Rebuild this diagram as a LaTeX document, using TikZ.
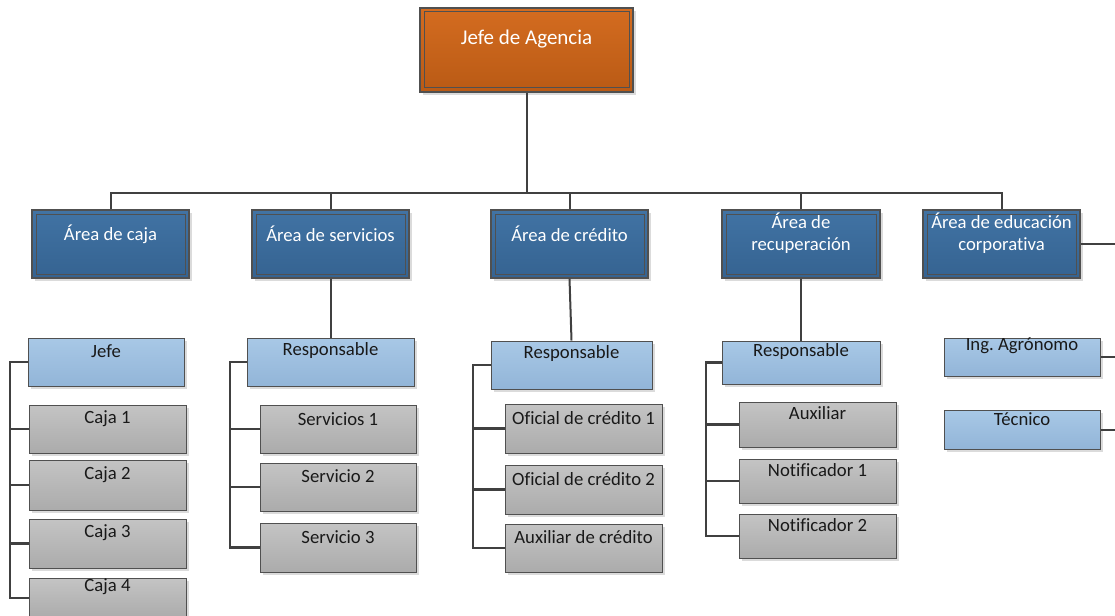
\documentclass[tikz,border=0pt]{standalone}
\usepackage{fontspec}
\setmainfont[Ligatures=NoCommon]{Carlito}
\frenchspacing
\usetikzlibrary{shadows}
\definecolor{lineC}{HTML}{404040}
\definecolor{orTop}{HTML}{D46C20}
\definecolor{orBot}{HTML}{B95A15}
\definecolor{blTop}{HTML}{4173A4}
\definecolor{blBot}{HTML}{356391}
\definecolor{lbTop}{HTML}{A8C8E6}
\definecolor{lbBot}{HTML}{92B5D8}
\definecolor{grTop}{HTML}{C4C4C4}
\definecolor{grBot}{HTML}{ABABAB}
\definecolor{bordC}{HTML}{505050}
\newcommand{\fsn}{\fontsize{18.7}{22}\selectfont}
\newcommand{\fsb}{\fontsize{21}{25}\selectfont}
\tikzset{
  x=1pt, y=-1pt,
  conn/.style={draw=lineC, line width=2pt},
  brk/.style={draw=lineC, line width=2.4pt},
  shad/.style={drop shadow={shadow xshift=3pt, shadow yshift=-3pt, fill=black!14, opacity=1}},
  dblbox/.style={rectangle, draw=bordC, line width=1.2pt, inner sep=0pt, shad,
    path picture={\draw[bordC, line width=1pt]
      ([shift={(4pt,-4pt)}]path picture bounding box.north west) rectangle
      ([shift={(-4pt,4pt)}]path picture bounding box.south east);}},
  topbox/.style={dblbox, top color=orTop, bottom color=orBot, minimum width=213pt, minimum height=84pt},
  areabox/.style={dblbox, top color=blTop, bottom color=blBot, minimum width=157pt, minimum height=68pt},
  lbbox/.style={rectangle, draw=bordC, line width=1pt, inner sep=0pt, shad, top color=lbTop, bottom color=lbBot, minimum width=#1, minimum height=48pt},
  lbbox/.default=157pt,
  grbox/.style={rectangle, draw=bordC, line width=1pt, inner sep=0pt, shad, top color=grTop, bottom color=grBot, minimum width=157pt, minimum height=48pt},
  wtxt/.style={font=\fsn, text=white, inner sep=0pt, align=center},
  btxt/.style={font=\fsn, text=black!90, inner sep=0pt, align=center},
}
\begin{document}
\begin{tikzpicture}
\useasboundingbox (0,0) rectangle (1115,615);

% top
\node[topbox] (top) at (526.5,50) {};
\node[wtxt, font=\fsb] (topt) at ([yshift=11pt]top.center) {Jefe de Agencia};

% areas
\node[areabox] (caja) at (110.5,244) {};
\node[areabox] (serv) at (330.5,244) {};
\node[areabox] (cred) at (569.5,244) {};
\node[areabox, minimum width=158pt] (recu) at (801,244) {};
\node[areabox] (edu) at (1001.5,244) {};
\node[wtxt] (cajat) at ([yshift=10pt]caja.center) {Área de caja};
\node[wtxt] (servt) at ([yshift=10pt]serv.center) {Área de servicios};
\node[wtxt] (credt) at ([yshift=10pt]cred.center) {Área de crédito};
\node[wtxt] (recut) at ([yshift=11pt]recu.center) {Área de\\recuperación};
\node[wtxt] (edut) at ([yshift=11pt]edu.center) {Área de educación\\corporativa};

% bus
\coordinate (bus) at (526.5,193);
\draw[conn] (top.south) -- (bus);
\draw[conn] (caja.north) |- (bus);
\draw[conn] (serv.north) |- (bus);
\draw[conn] (cred.north) |- (bus);
\draw[conn] (recu.north) |- (bus);
\draw[conn] (edu.north) |- (bus);

% caja column
\node[lbbox=156pt] (jefe) at (106,362) {};
\node[grbox] (c1) at (107.5,429) {};
\node[grbox, minimum height=50pt] (c2) at (107.5,485) {};
\node[grbox, minimum height=49pt] (c3) at (107.5,543.5) {};
\node[grbox, minimum height=40pt] (c4) at (107.5,598) {};
\node[btxt] (jefet) at ([yshift=11pt]jefe.center) {Jefe};
\node[btxt] (c1t) at ([yshift=10pt]c1.center) {Caja 1};
\node[btxt] (c2t) at ([yshift=10pt]c2.center) {Caja 2};
\node[btxt] (c3t) at ([yshift=11pt]c3.center) {Caja 3};
\node[btxt] (c4t) at ([yshift=11pt]c4.center) {Caja 4};
\coordinate (bxa) at (10,0);
\draw[brk] (jefe.west) -- (jefe.west -| bxa) |- (c4.west);
\draw[brk] (c1.west) -- (c1.west -| bxa);
\draw[brk] (c2.west) -- (c2.west -| bxa);
\draw[brk] (c3.west) -- (c3.west -| bxa);

% servicios column
\node[lbbox=167pt] (rs) at (330.5,362) {};
\node[grbox, minimum width=156pt] (s1) at (338,429) {};
\node[grbox, minimum width=156pt] (s2) at (338,487) {};
\node[grbox, minimum width=156pt, minimum height=49pt] (s3) at (338,547.5) {};
\node[btxt] (rst) at ([yshift=11pt]rs.center) {Responsable};
\node[btxt] (s1t) at ([yshift=10pt]s1.center) {Servicios 1};
\node[btxt] (s2t) at ([yshift=11pt]s2.center) {Servicio 2};
\node[btxt] (s3t) at ([yshift=10pt]s3.center) {Servicio 3};
\draw[conn] (serv.south) -- (rs.north);
\coordinate (bxb) at (230,0);
\draw[brk] (rs.west) -- (rs.west -| bxb) |- (s3.west);
\draw[brk] (s1.west) -- (s1.west -| bxb);
\draw[brk] (s2.west) -- (s2.west -| bxb);

% credito column
\node[lbbox=161pt] (rc) at (571.5,365) {};
\node[grbox, minimum height=49pt] (o1) at (583.5,428.5) {};
\node[grbox, minimum height=49pt] (o2) at (583.5,489.5) {};
\node[grbox] (ac) at (583.5,548) {};
\node[btxt] (rct) at ([yshift=11pt]rc.center) {Responsable};
\node[btxt] (o1t) at ([yshift=10pt]o1.center) {Oficial de crédito 1};
\node[btxt] (o2t) at ([yshift=10pt]o2.center) {Oficial de crédito 2};
\node[btxt] (act) at ([yshift=11pt]ac.center) {Auxiliar de crédito};
\draw[conn] (cred.south) -- (rc.north);
\coordinate (bxc) at (473,0);
\draw[brk] (rc.west) -- (rc.west -| bxc) |- (ac.west);
\draw[brk] (o1.west) -- (o1.west -| bxc);
\draw[brk] (o2.west) -- (o2.west -| bxc);

% recuperacion column
\node[lbbox=158pt, minimum height=43pt] (rr) at (801,362.5) {};
\node[grbox, minimum height=45pt] (au) at (817.5,424.5) {};
\node[grbox, minimum height=44pt] (n1) at (817.5,481) {};
\node[grbox, minimum height=44pt] (n2) at (817.5,536) {};
\node[btxt] (rrt) at ([yshift=11pt]rr.center) {Responsable};
\node[btxt] (aut) at ([yshift=11pt]au.center) {Auxiliar};
\node[btxt] (n1t) at ([yshift=11pt]n1.center) {Notificador 1};
\node[btxt] (n2t) at ([yshift=11pt]n2.center) {Notificador 2};
\draw[conn] (recu.south) -- (rr.north);
\coordinate (bxd) at (706,0);
\draw[brk] (rr.west) -- (rr.west -| bxd) |- (n2.west);
\draw[brk] (au.west) -- (au.west -| bxd);
\draw[brk] (n1.west) -- (n1.west -| bxd);

% educacion column
\node[lbbox=156pt, minimum height=38pt] (ing) at (1022,357) {};
\node[lbbox=156pt, minimum height=39pt] (tec) at (1022,429.5) {};
\node[btxt] (ingt) at ([yshift=11pt]ing.center) {Ing. Agrónomo};
\node[btxt] (tect) at ([yshift=10pt]tec.center) {Técnico};
\coordinate (rx) at (1120,0);
\draw[conn] (edu.east) -- (edu.east -| rx);
\draw[conn] (ing.east) -- (ing.east -| rx);
\draw[conn] (tec.east) -- (tec.east -| rx);
\end{tikzpicture}
\end{document}
